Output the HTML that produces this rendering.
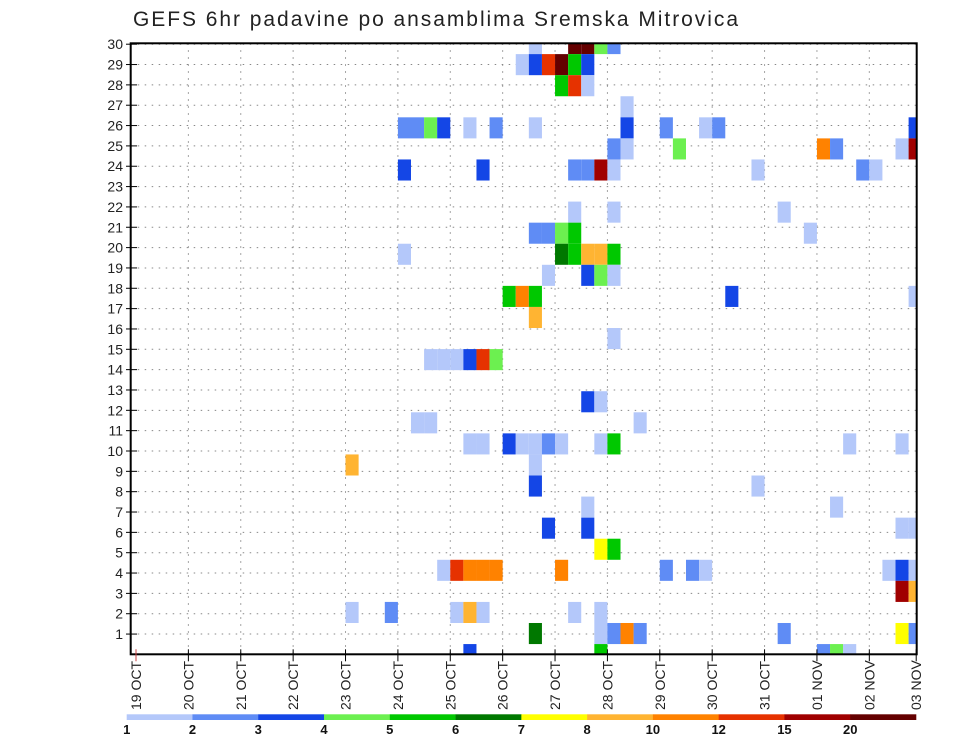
<!DOCTYPE html>
<html><head><meta charset="utf-8"><style>
html,body{margin:0;padding:0;background:#fff;}
svg{display:block;font-family:"Liberation Sans",sans-serif;}
</style></head><body>
<svg id="chart" width="960" height="742" viewBox="0 0 960 742">
<text x="133" y="26" font-size="21" textLength="605" lengthAdjust="spacing" fill="#222">GEFS 6hr padavine po ansamblima Sremska Mitrovica</text>
<g id="grid"></g><g id="cells"></g><g id="axes"></g><g id="legend"></g>
</svg>
<script>
const dayLabels = ["19 OCT","20 OCT","21 OCT","22 OCT","23 OCT","24 OCT","25 OCT","26 OCT","27 OCT","28 OCT","29 OCT","30 OCT","31 OCT","01 NOV","02 NOV","03 NOV"];
const yTicks = [1,2,3,4,5,6,7,8,9,10,11,12,13,14,15,16,17,18,19,20,21,22,23,24,25,26,27,28,29,30];
const legendLabels = ["1","2","3","4","5","6","7","8","10","12","15","20"];
const levelColors = ["#b4c8fa","#5f8cf5","#1446e6","#6cf050","#00c800","#007800","#ffff00","#ffb432","#ff8200","#e63200","#a00000","#640000"];
// cells, one line per ensemble member row: member row, 6h slot, level
const cellMembers = [
29,29,29,29,29,
28,28,28,28,28,28,
27,27,27,
26,
25,25,25,25,25,25,25,25,25,25,25,25,
24,24,24,24,24,24,24,
23,23,23,23,23,23,23,23,23,
21,21,21,
20,20,20,20,20,
19,19,19,19,19,19,
18,18,18,18,
17,17,17,17,17,
16,
15,
14,14,14,14,14,14,
12,12,
11,11,11,
10,10,10,10,10,10,10,10,10,10,10,
9,9,
8,8,
7,7,
6,6,6,6,
5,5,
4,4,4,4,4,4,4,4,4,4,4,4,
3,3,
2,2,2,2,2,2,2,
1,1,1,1,1,1,1,1,
0,0,0,0,0];
const cellSlots = [
30,33,34,35,36,
29,30,31,32,33,34,
32,33,34,
37,
20,21,22,23,25,27,30,37,40,43,44,59,
36,37,41,52,53,58,59,
20,26,33,34,35,36,47,55,56,
33,36,49,
30,31,32,33,51,
20,32,33,34,35,36,
31,34,35,36,
28,29,30,45,59,
30,
36,
22,23,24,25,26,27,
34,35,
21,22,38,
25,26,28,29,30,31,32,35,36,54,58,
16,30,
30,47,
34,53,
31,34,58,59,
35,36,
23,24,25,26,27,32,40,42,43,57,58,59,
58,59,
16,19,24,25,26,33,35,
30,35,36,37,38,49,58,59,
25,35,52,53,54];
const cellLevels = [
1,12,12,4,2,
1,3,10,12,5,3,
5,10,1,
1,
2,2,4,3,1,2,1,3,2,1,2,3,
2,1,4,9,2,1,11,
3,3,2,2,11,1,1,2,1,
1,1,1,
2,2,4,5,1,
1,6,5,8,8,5,
1,3,4,1,
5,9,5,3,1,
8,
1,
1,1,1,3,10,4,
3,1,
1,1,1,
1,1,3,1,1,2,1,1,5,1,1,
8,1,
3,1,
1,1,
3,3,1,1,
7,5,
1,10,9,9,9,9,2,2,1,1,3,1,
11,8,
1,2,1,8,1,1,1,
6,1,2,9,2,2,7,2,
3,5,2,4,1];

const NS="http://www.w3.org/2000/svg";
const L=130.7,R=916.7,T=43.3,B=654.3;
function xs(slot){return 136+13.095*slot;}
function yRow(k){return 654.6-21.07*k;}
function yVal(v){return 654.4-20.34*v;}
function mk(tag,attrs,parent){const e=document.createElementNS(NS,tag);for(const a in attrs)e.setAttribute(a,attrs[a]);parent.appendChild(e);return e;}
const grid=document.getElementById('grid'),cells=document.getElementById('cells'),axes=document.getElementById('axes'),leg=document.getElementById('legend');

yTicks.forEach(v=>{const g=mk('line',{x1:L,x2:R,y1:yVal(v),y2:yVal(v),stroke:'#888','stroke-width':1,'stroke-dasharray':'1.5,5.5'},grid);

});
dayLabels.forEach((d,i)=>{const x=Math.min(xs(i*4),R);if(i>0&&x<R){const g=mk('line',{x1:x,x2:x,y1:T,y2:B,stroke:'#888','stroke-width':1,'stroke-dasharray':'1.5,5.5'},grid);

}});

for(let i=0;i<cellMembers.length;i++){
  const lev=cellLevels[i]; if(lev<1) continue;
  let x0=xs(cellSlots[i]),x1=xs(cellSlots[i]+1),yc=yRow(cellMembers[i]);
  let y0=yc-10.535,y1=yc+10.535;
  x0=Math.max(x0,L);x1=Math.min(x1,R);y0=Math.max(y0,T);y1=Math.min(y1,B);
  const r=mk('rect',{x:x0,y:y0,width:x1-x0,height:y1-y0,fill:levelColors[lev-1]},cells);
  
  
}

const fr=mk('rect',{x:L,y:T,width:R-L,height:B-T,fill:'none',stroke:'#000','stroke-width':2},axes);



yTicks.forEach(v=>{const y=yVal(v);
  mk('line',{x1:126,x2:137,y1:y,y2:y,stroke:'#000','stroke-width':1},axes);
  const t=mk('text',{x:123,y:y+5,'font-size':14,'text-anchor':'end',fill:'#222'},axes);t.textContent=v;
  
  });

dayLabels.forEach((d,i)=>{const x=Math.min(xs(i*4),R-0.5);
  mk('line',{x1:x,x2:x,y1:B-5,y2:B+7,stroke:i==0?'#c44':'#000','stroke-width':1},axes);
  const t=mk('text',{x:0,y:0,'font-size':14,'text-anchor':'start',fill:'#222',transform:`translate(${x+5},710) rotate(-90)`},axes);t.textContent=d;
  
  });

const lx0=126.7,lw=65.775;
levelColors.forEach((c,i)=>{const r=mk('rect',{x:lx0+i*lw,y:714.3,width:lw+0.3,height:5.7,fill:c},leg);
  
  });
legendLabels.forEach((s,i)=>{const t=mk('text',{x:lx0+i*lw,y:734,'font-size':13,'font-weight':'bold','text-anchor':'middle',fill:'#111'},leg);t.textContent=s;
  
  });
</script>
</body></html>
